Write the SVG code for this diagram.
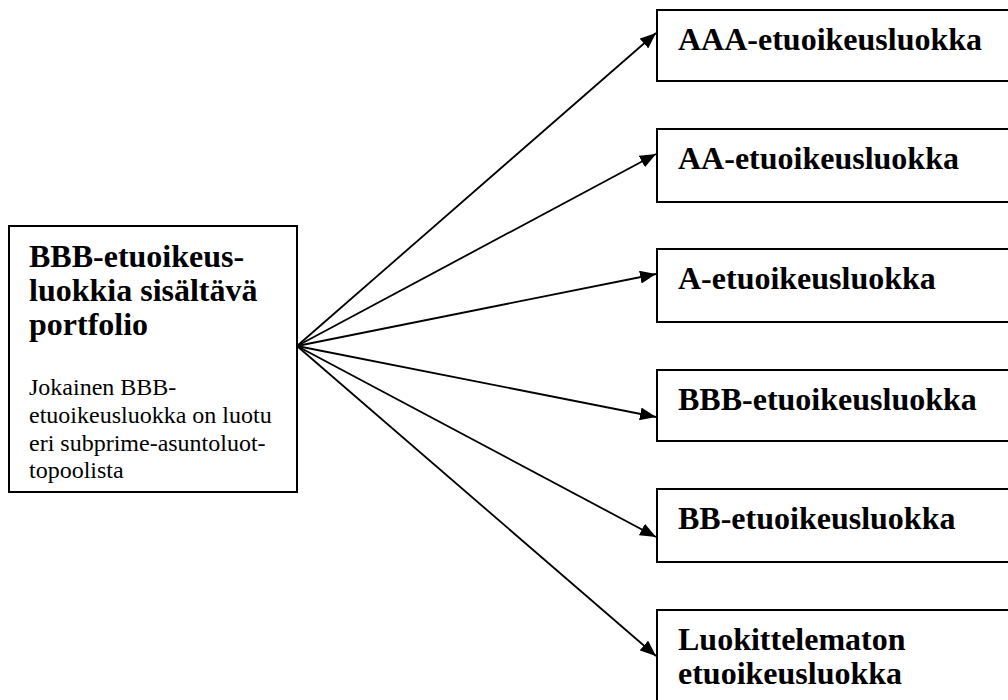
<svg xmlns="http://www.w3.org/2000/svg" width="1008" height="700" viewBox="0 0 1008 700">
  <style>
    .box { fill: #ffffff; stroke: #000000; stroke-width: 2; }
    .title { font-family: "Liberation Serif", "Times New Roman", serif; font-size: 32px; font-weight: bold; fill: #000000; }
    .note { font-family: "Liberation Serif", "Times New Roman", serif; font-size: 24px; fill: #000000; }
    .link { fill: none; stroke: #000000; stroke-width: 1.8; marker-end: url(#arrow); }
  </style>
  <defs>
    <marker id="arrow" markerUnits="userSpaceOnUse" markerWidth="17" markerHeight="13" refX="16" refY="6.5" orient="auto">
      <path d="M0,0 L16,6.5 L0,13 Z" fill="#000000"/>
    </marker>
  </defs>
  <rect width="1008" height="700" fill="#ffffff"/>

  <!-- source portfolio -->
  <g id="portfolio">
    <rect class="box" x="9" y="226" width="288" height="266"/>
    <text class="title" x="29" y="267">BBB-etuoikeus-</text>
    <text class="title" x="29" y="301">luokkia sisältävä</text>
    <text class="title" x="29" y="335">portfolio</text>
    <text class="note" x="29" y="395">Jokainen BBB-</text>
    <text class="note" x="29" y="423">etuoikeusluokka on luotu</text>
    <text class="note" x="29" y="451">eri subprime-asuntoluot-</text>
    <text class="note" x="29" y="478">topoolista</text>
  </g>

  <!-- tranches -->
  <g id="tranche-aaa">
    <rect class="box" x="657" y="10" width="380" height="71"/>
    <text class="title" x="678" y="50">AAA-etuoikeusluokka</text>
  </g>
  <g id="tranche-aa">
    <rect class="box" x="657" y="129" width="380" height="73"/>
    <text class="title" x="678" y="169">AA-etuoikeusluokka</text>
  </g>
  <g id="tranche-a">
    <rect class="box" x="657" y="249" width="380" height="73"/>
    <text class="title" x="678" y="289">A-etuoikeusluokka</text>
  </g>
  <g id="tranche-bbb">
    <rect class="box" x="657" y="370" width="380" height="71"/>
    <text class="title" x="678" y="410">BBB-etuoikeusluokka</text>
  </g>
  <g id="tranche-bb">
    <rect class="box" x="657" y="489" width="380" height="73"/>
    <text class="title" x="678" y="529">BB-etuoikeusluokka</text>
  </g>
  <g id="tranche-unrated">
    <rect class="box" x="657" y="610" width="380" height="120"/>
    <text class="title" x="678" y="650">Luokittelematon</text>
    <text class="title" x="678" y="684">etuoikeusluokka</text>
  </g>

  <!-- connectors -->
  <g id="connectors">
    <line class="link" x1="297" y1="346" x2="656" y2="33"/>
    <line class="link" x1="297" y1="346" x2="656" y2="154"/>
    <line class="link" x1="297" y1="346" x2="656" y2="274"/>
    <line class="link" x1="297" y1="346" x2="656" y2="417"/>
    <line class="link" x1="297" y1="346" x2="656" y2="537"/>
    <line class="link" x1="297" y1="346" x2="656" y2="656"/>
  </g>
</svg>
